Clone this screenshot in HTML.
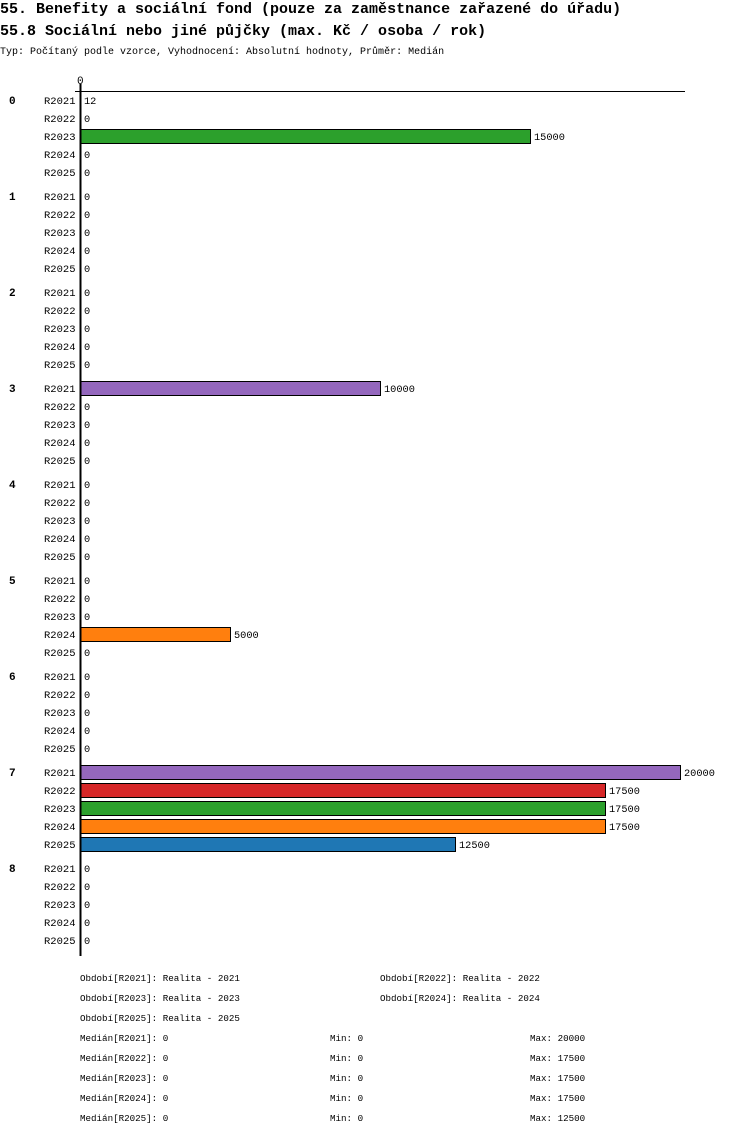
<!DOCTYPE html>
<html><head><meta charset="utf-8"><style>
body{margin:0;background:#fff;width:750px;height:1136px;overflow:hidden}
svg text{font-family:"Liberation Mono",monospace;fill:#000}
</style></head><body>
<svg id="c" width="750" height="1136" xmlns="http://www.w3.org/2000/svg">
<text x="0" y="13" font-size="15" font-weight="bold">55. Benefity a sociální fond (pouze za zaměstnance zařazené do úřadu)</text>
<text x="0" y="35" font-size="15" font-weight="bold">55.8 Sociální nebo jiné půjčky (max. Kč / osoba / rok)</text>
<text x="0" y="54" font-size="10">Typ: Počítaný podle vzorce, Vyhodnocení: Absolutní hodnoty, Průměr: Medián</text>
<g id="plot"></g>
<g id="legend"></g>
</svg>
<script>
const groups=["0","1","2","3","4","5","6","7","8"];
const periods=["R2021","R2022","R2023","R2024","R2025"];
const colors=["#9467bd","#d62728","#2ca02c","#ff7f0e","#1f77b4"];
const values=[
[12,0,15000,0,0],
[0,0,0,0,0],
[0,0,0,0,0],
[10000,0,0,0,0],
[0,0,0,0,0],
[0,0,0,5000,0],
[0,0,0,0,0],
[20000,17500,17500,17500,12500],
[0,0,0,0,0]];
const legendLabels=["Období[R2021]: Realita - 2021","Období[R2022]: Realita - 2022","Období[R2023]: Realita - 2023","Období[R2024]: Realita - 2024","Období[R2025]: Realita - 2025"];
const medians=[0,0,0,0,0];
const mins=[0,0,0,0,0];
const maxs=[20000,17500,17500,17500,12500];
const NS="http://www.w3.org/2000/svg";
const X0=80,XMAX=20000,XW=600;
const x=v=>X0+v/XMAX*XW;
const rowY=(g,p)=>100+g*96+p*18;
function mk(tag,attrs,parent,txt){const e=document.createElementNS(NS,tag);for(const k in attrs)e.setAttribute(k,attrs[k]);if(txt!==undefined)e.textContent=txt;parent.appendChild(e);return e;}
const plot=document.getElementById('plot');
let e=mk('line',{x1:75,y1:91.5,x2:685,y2:91.5,stroke:'#000','stroke-width':1},plot);


e=mk('text',{x:77,y:84,'font-size':11},plot,'0');


groups.forEach((g,gi)=>{
  e=mk('text',{x:9,y:rowY(gi,0)+4,'font-size':11,'font-weight':'bold'},plot,g);
  
  
  periods.forEach((p,pi)=>{
    const y=rowY(gi,pi),v=values[gi][pi];
    e=mk('text',{x:44,y:y+4,'font-size':10.5},plot,p);
    
    
    if(v>100){
      e=mk('rect',{x:X0+0.5,y:y-6.5,width:x(v)-X0,height:14,fill:colors[pi],stroke:'#000','stroke-width':1},plot);
      
      
    }
    e=mk('text',{x:(v>100?x(v):X0)+4,y:y+4,'font-size':10.3},plot,String(v));
    
    
  });
});
e=mk('line',{x1:80.5,y1:84,x2:80.5,y2:956,stroke:'#000','stroke-width':2},plot);


const lg=document.getElementById('legend');
legendLabels.forEach((l,i)=>{
  e=mk('text',{x:i%2?380:80,y:981+Math.floor(i/2)*20,'font-size':9.2},lg,l);
  
  
});
periods.forEach((p,i)=>{
  const y=1041+i*20;
  e=mk('text',{x:80,y:y,'font-size':9.2},lg,'Medián['+p+']: '+medians[i]);
  
  
  e=mk('text',{x:330,y:y,'font-size':9.2},lg,'Min: '+mins[i]);
  
  
  e=mk('text',{x:530,y:y,'font-size':9.2},lg,'Max: '+maxs[i]);
  
  
});
</script>
</body></html>
